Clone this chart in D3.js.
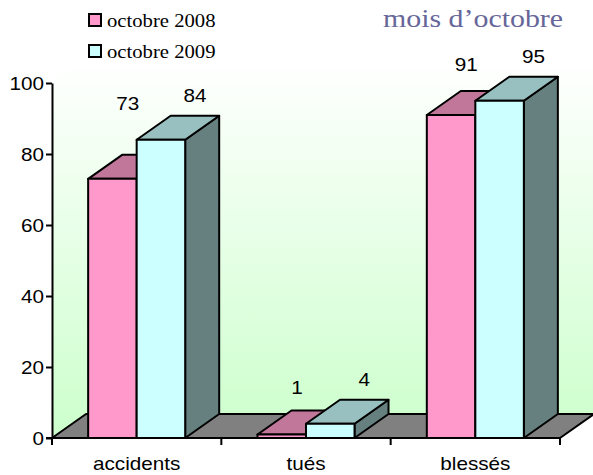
<!DOCTYPE html>
<html lang="fr">
<head>
<meta charset="UTF-8">
<title>mois d'octobre</title>
<script src="https://d3js.org/d3.v7.min.js"></script>
<style>
  body { margin: 0; background: #fff; }
  .num { font-family: "Liberation Sans", Arial, sans-serif; font-size: 18px; fill: #000; }
  .serif { font-family: "Liberation Serif", "Times New Roman", serif; }
</style>
</head>
<body>
<svg id="chart" width="593" height="475"></svg>
<script>
// data
const categories = ['accidents', 'tués', 'blessés'];
const seriesNames = ['octobre 2008', 'octobre 2009'];
const values2008 = [73, 1, 91];
const values2009 = [84, 4, 95];
const yTicks = [0, 20, 40, 60, 80, 100];

const svg = d3.select('#chart');
const W = 593, H = 475;
const margin = { left: 52, right: 33, top: 83, bottom: 37 };
const depth = { x: 34, y: -24 };   // 3d offset
const stretch = 1.15;              // the original picture is a bit wide

const x = d3.scaleBand()
    .domain(categories)
    .range([margin.left, W - margin.right]);

const xs = d3.scaleBand()
    .domain(seriesNames)
    .range([0, x.bandwidth()])
    .paddingOuter(0.745);

const y = d3.scaleLinear()
    .domain([0, 100])
    .range([H - margin.bottom, margin.top]);

const colors = {
    'octobre 2008': { front: '#ff99cc', top: '#c0779a', side: '#a05a7a' },
    'octobre 2009': { front: '#ccffff', top: '#99c0c0', side: '#668080' }
};

// gradient for walls
const defs = svg.append('defs');
const grad = defs.append('linearGradient')
    .attr('id', 'wall').attr('x1', 0).attr('y1', 0).attr('x2', 0).attr('y2', 1);
grad.append('stop').attr('offset', '0%').attr('stop-color', '#ffffff');
grad.append('stop').attr('offset', '100%').attr('stop-color', '#ccffcc');

const x0 = x.range()[0], x1 = x.range()[1];
const yb = y(0), yt = y(100);

// side + back wall
svg.append('polygon')
    .attr('points', [[x0, yb], [x0, yt], [x0 + depth.x, yt + depth.y],
        [x1 + depth.x, yt + depth.y], [x1 + depth.x, yb + depth.y],
        [x0 + depth.x, yb + depth.y]].join(' '))
    .attr('fill', 'url(#wall)');

// floor
svg.append('polygon')
    .attr('points', [[x0, yb], [x1, yb], [x1 + depth.x, yb + depth.y],
        [x0 + depth.x, yb + depth.y]].join(' '))
    .attr('fill', '#808080')
    .attr('stroke', '#000').attr('stroke-width', 2).attr('stroke-linejoin', 'round');

// bars
const rows = [];
categories.forEach((c, i) => {
    rows.push({ cat: c, s: seriesNames[0], v: values2008[i], other: values2009[i] });
    rows.push({ cat: c, s: seriesNames[1], v: values2009[i], other: null });
});

const bars = svg.append('g');
rows.forEach(d => {
    const bx = x(d.cat) + xs(d.s), bw = xs.bandwidth();
    const top = y(d.v), bot = y(0);
    const col = colors[d.s];
    const g = bars.append('g')
        .attr('stroke', '#000').attr('stroke-width', 2).attr('stroke-linejoin', 'round');
    g.append('polygon')
        .attr('points', [[bx + bw, bot], [bx + bw, top], [bx + bw + depth.x, top + depth.y],
            [bx + bw + depth.x, bot + depth.y]].join(' '))
        .attr('fill', col.side);
    g.append('polygon')
        .attr('points', [[bx, top], [bx + bw, top], [bx + bw + depth.x, top + depth.y],
            [bx + depth.x, top + depth.y]].join(' '))
        .attr('fill', col.top);
    g.append('rect')
        .attr('x', bx).attr('y', top)
        .attr('width', bw).attr('height', bot - top)
        .attr('fill', col.front);
});

// value labels
const labels = svg.append('g');
rows.forEach(d => {
    const bx = x(d.cat) + xs(d.s), bw = xs.bandwidth();
    let lx, ly;
    if (d.other !== null) {
        // keep clear of the neighbouring bar
        lx = bx + bw / 2 + depth.x * 0.45;
        ly = Math.min(y(d.v) + depth.y - 22, y(d.other) - 36);
    } else {
        lx = bx + bw / 2 + depth.x;
        ly = y(d.v) + depth.y - 20;
    }
    labels.append('text')
        .attr('class', 'num')
        .attr('transform', `translate(${lx},${ly}) scale(${stretch},1)`)
        .attr('text-anchor', 'middle')
        .attr('dy', '0.35em')
        .text(d.v);
});

// y axis
const yAxis = svg.append('g')
    .attr('transform', `translate(${x0},0)`)
    .call(d3.axisLeft(y).tickValues(yTicks).tickSize(6).tickSizeOuter(0).tickFormat(d3.format('d')));
yAxis.select('.domain').attr('stroke', '#000').attr('stroke-width', 2);
yAxis.selectAll('.tick line').attr('stroke', '#000').attr('stroke-width', 2);
yAxis.selectAll('.tick text')
    .attr('class', 'num')
    .attr('font-size', null).attr('font-family', null)
    .attr('x', null).attr('dy', null)
    .attr('text-anchor', 'end')
    .attr('transform', `translate(-8,6) scale(${stretch},1)`);

// x axis ticks at category edges
const edges = categories.map(c => x(c)).concat([x1]);
svg.append('g').selectAll('line')
    .data(edges).join('line')
    .attr('x1', d => d).attr('x2', d => d)
    .attr('y1', yb).attr('y2', yb + 7)
    .attr('stroke', '#000').attr('stroke-width', 2);
svg.append('line')
    .attr('x1', x0 - 6).attr('x2', x1).attr('y1', yb).attr('y2', yb)
    .attr('stroke', '#000').attr('stroke-width', 2);

svg.append('g').selectAll('text')
    .data(categories).join('text')
    .attr('class', 'num')
    .attr('text-anchor', 'middle')
    .attr('transform', d => `translate(${x(d) + x.bandwidth() / 2},${yb + 32}) scale(${stretch},1)`)
    .text(d => d);

// legend
const legend = svg.append('g');
seriesNames.forEach((s, i) => {
    const ly = 14 + i * 31;
    legend.append('rect')
        .attr('x', 89).attr('y', ly).attr('width', 12).attr('height', 12)
        .attr('fill', colors[s].front)
        .attr('stroke', '#000').attr('stroke-width', 2);
    legend.append('text')
        .attr('class', 'serif')
        .attr('transform', `translate(107,${ly + 13}) scale(${stretch},1)`)
        .attr('font-size', 18)
        .text(s);
});

// title
svg.append('text')
    .attr('class', 'serif')
    .attr('transform', `translate(383,27) scale(${stretch},1)`)
    .attr('font-size', 26)
    .attr('fill', '#666699')
    .text('mois d’octobre');
</script>
</body>
</html>
